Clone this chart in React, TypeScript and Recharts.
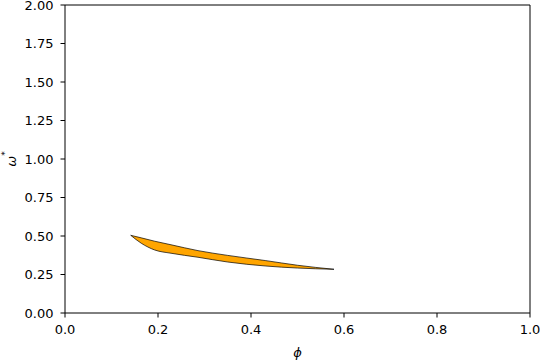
import React from 'react';
import { ComposedChart, Area, XAxis, YAxis, ReferenceLine } from 'recharts';

const phiValues = [0.1413, 0.164, 0.193, 0.228, 0.286, 0.35, 0.432, 0.5, 0.5785];
const upperOmega = [0.5045, 0.488, 0.466, 0.443, 0.405, 0.374, 0.34, 0.31, 0.2838];
const lowerOmega = [0.5045, 0.453, 0.409, 0.388, 0.362, 0.331, 0.305, 0.292, 0.2838];
const xTicks = [0, 0.2, 0.4, 0.6, 0.8, 1.0];
const yTicks = [0, 0.25, 0.5, 0.75, 1.0, 1.25, 1.5, 1.75, 2.0];

const data = phiValues.map((x, i) => ({ x, range: [lowerOmega[i], upperOmega[i]] }));

const FONT = 'DejaVu Sans';
const FS = 13;

const XTick = (props: any) => {
  const { x, y, payload } = props;
  return (
    <text x={x} y={y} dy="0.76em" textAnchor="middle" fontFamily={FONT} fontSize={FS} fill="#000">
      {Number(payload.value).toFixed(1)}
    </text>
  );
};

const YTick = (props: any) => {
  const { x, y, payload } = props;
  return (
    <text x={x} y={y} textAnchor="end" dominantBaseline="central" fontFamily={FONT} fontSize={FS} fill="#000">
      {Number(payload.value).toFixed(2)}
    </text>
  );
};

const XLabel = (props: any) => {
  const vb = props.viewBox || { x: 65, y: 313, width: 465, height: 47 };
  const cx = vb.x + vb.width / 2;
  const cy = vb.y + 39;
  return (
    <text x={cx} y={cy} textAnchor="middle" dominantBaseline="central" fontFamily={FONT} fontSize={FS} fontStyle="italic" fill="#000">
      ϕ
    </text>
  );
};

const YLabel = (props: any) => {
  const vb = props.viewBox || { x: 0, y: 5, width: 65, height: 308 };
  const cx = 11;
  const cy = vb.y + vb.height / 2;
  return (
    <text x={cx} y={cy} transform={`rotate(-90, ${cx}, ${cy})`} textAnchor="middle" dominantBaseline="central" fontFamily={FONT} fontSize={FS} fill="#000">
      <tspan fontStyle="italic">ω</tspan>
      <tspan fontSize={9} dy={-6}>*</tspan>
    </text>
  );
};

export default function App() {
  return (
    <div style={{ position: 'absolute', left: 0, top: 0 }}>
      <ComposedChart width={540} height={360} data={data} margin={{ top: 5, right: 10, bottom: 0, left: 0 }}>
        <XAxis
          dataKey="x"
          type="number"
          domain={[0, 1]}
          ticks={xTicks}
          height={47}
          axisLine={{ stroke: '#000', strokeWidth: 1 }}
          tickLine={{ stroke: '#000', strokeWidth: 1 }}
          tickSize={4.5}
          tickMargin={6.5}
          tick={<XTick />}
          label={<XLabel />}
          interval={0}
          allowDataOverflow
        />
        <YAxis
          type="number"
          domain={[0, 2]}
          ticks={yTicks}
          width={65}
          axisLine={{ stroke: '#000', strokeWidth: 1 }}
          tickLine={{ stroke: '#000', strokeWidth: 1 }}
          tickSize={4.5}
          tickMargin={7}
          tick={<YTick />}
          label={<YLabel />}
          interval={0}
          allowDataOverflow
        />
        <ReferenceLine y={2} stroke="#000" strokeWidth={1} />
        <ReferenceLine x={1} stroke="#000" strokeWidth={1} />
        <Area
          dataKey="range"
          type="monotone"
          fill="#FFA500"
          fillOpacity={1}
          stroke="#000"
          strokeWidth={0.7}
          isAnimationActive={false}
          dot={false}
          activeDot={false}
        />
      </ComposedChart>
    </div>
  );
}
